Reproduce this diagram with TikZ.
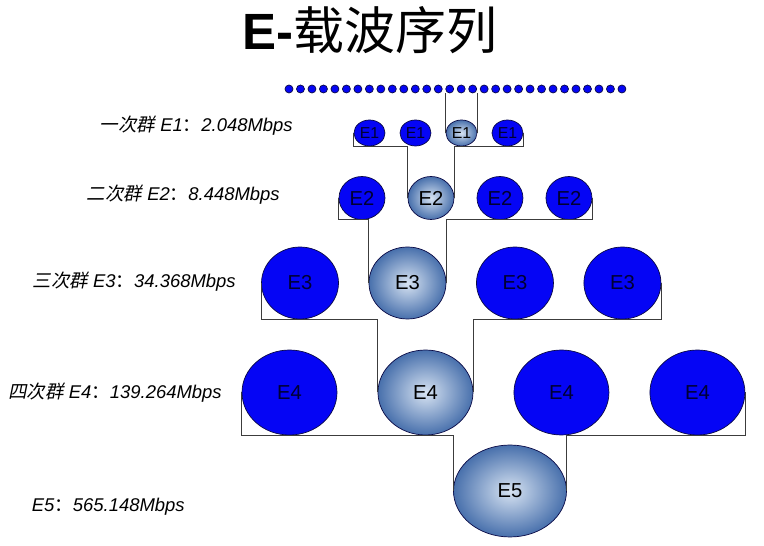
\documentclass[tikz,border=0pt]{standalone}
\usepackage{fontspec}
\setmainfont{Liberation Sans}
\newfontfamily\cjk{Noto Sans CJK SC}
\newfontfamily\cjkslant[FakeSlant=0.2]{Noto Sans CJK SC}
\usepackage{tikz}
\usetikzlibrary{shapes.geometric}
\usetikzlibrary{positioning}
\definecolor{carrierblue}{RGB}{5,5,245}
\definecolor{carrieredge}{RGB}{10,10,70}
\definecolor{steelout}{RGB}{72,112,172}
\definecolor{steelin}{RGB}{215,227,242}
\definecolor{linegray}{RGB}{60,60,60}
\tikzstyle{Ecarrier_style}=[
	x=0.02cm, y=-0.02cm,
	slot/.style={circle,fill=carrierblue,draw=carrieredge,inner sep=0pt,minimum size=0.16cm},
	frame/.style={ellipse,fill=carrierblue,draw=carrieredge,inner sep=0pt,text=black!80!blue},
	mux/.style={ellipse,draw=carrieredge,shade,inner color=steelin,outer color=steelout,inner sep=0pt,text=black},
	e1/.style={minimum width=0.62cm,minimum height=0.52cm,node distance=0.92cm,font=\fontsize{9}{10}\selectfont},
	e2/.style={minimum width=0.92cm,minimum height=0.86cm,node distance=1.38cm,font=\fontsize{11.5}{13}\selectfont},
	e3/.style={minimum width=1.54cm,minimum height=1.44cm,node distance=2.15cm,font=\fontsize{11.5}{13}\selectfont},
	e4/.style={minimum width=1.9cm,minimum height=1.7cm,node distance=2.72cm,font=\fontsize{11.5}{13}\selectfont},
	e5/.style={minimum width=2.26cm,minimum height=1.84cm,font=\fontsize{11.5}{13}\selectfont},
	rate/.style={anchor=east,inner sep=0pt,font=\itshape\fontsize{10.5}{12}\selectfont},
	bracket/.style={draw=linegray,line width=0.7pt}
]

\begin{document}
\begin{tikzpicture}[Ecarrier_style]
		\useasboundingbox (0,0) rectangle (764,546);
		
		\node (title) at (370,30) {\fontsize{29}{32}\selectfont\textbf{E-}\cjk 载波序列};
		
		% time slots
		\foreach \i in {1,...,30}
		\node[slot] (d\i) at ({289+(\i-1)*11.48},89) {};
		
		\node[frame,e1]  (E1a) at (369.5,133) {E1};
		\node[frame,e1]  (E1b)[right of=E1a] {E1};
		\node[mux,e1]    (E1c)[right of=E1b] {E1};
		\node[frame,e1]  (E1d)[right of=E1c] {E1};
		
		\node[frame,e2]  (E2a) at (362,198) {E2};
		\node[mux,e2]    (E2b)[right of=E2a] {E2};
		\node[frame,e2]  (E2c)[right of=E2b] {E2};
		\node[frame,e2]  (E2d)[right of=E2c] {E2};
		
		\node[frame,e3]  (E3a) at (300,283) {E3};
		\node[mux,e3]    (E3b)[right of=E3a] {E3};
		\node[frame,e3]  (E3c)[right of=E3b] {E3};
		\node[frame,e3]  (E3d)[right of=E3c] {E3};
		
		\node[frame,e4]  (E4a) at (289.5,392.5) {E4};
		\node[mux,e4]    (E4b)[right of=E4a] {E4};
		\node[frame,e4]  (E4c)[right of=E4b] {E4};
		\node[frame,e4]  (E4d)[right of=E4c] {E4};
		
		\node[mux,e5]    (E5) at (510,491) {E5};
		
		\node[rate] (r1) at (293,126) {{\cjkslant 一次群} E1{\cjk ：}2.048Mbps};
		\node[rate] (r2) at (280,195) {{\cjkslant 二次群} E2{\cjk ：}8.448Mbps};
		\node[rate] (r3) at (236,282) {{\cjkslant 三次群} E3{\cjk ：}34.368Mbps};
		\node[rate] (r4) at (222,393) {{\cjkslant 四次群} E4{\cjk ：}139.264Mbps};
		\node[rate] (r5) at (185,507) {E5{\cjk ：}565.148Mbps};
		
		% multiplexing
		\draw[bracket] (E1c.west) -- (E1c.west |- d15.south);
		\draw[bracket] (E1c.east) -- (E1c.east |- d17.south);
		\draw[bracket] (E1a.west) |- (E1a.south -| E2b.west) -- (E2b.west);
		\draw[bracket] (E1d.east) |- (E1d.south -| E2b.east) -- (E2b.east);
		\draw[bracket] (E2a.west) |- (E2a.south -| E3b.west) -- (E3b.west);
		\draw[bracket] (E2d.east) |- (E2d.south -| E3b.east) -- (E3b.east);
		\draw[bracket] (E3a.west) |- (E3a.south -| E4b.west) -- (E4b.west);
		\draw[bracket] (E3d.east) |- (E3d.south -| E4b.east) -- (E4b.east);
		\draw[bracket] (E4a.west) |- (E4a.south -| E5.west) -- (E5.west);
		\draw[bracket] (E4d.east) |- (E4d.south -| E5.east) -- (E5.east);
		
\end{tikzpicture}
\end{document}
